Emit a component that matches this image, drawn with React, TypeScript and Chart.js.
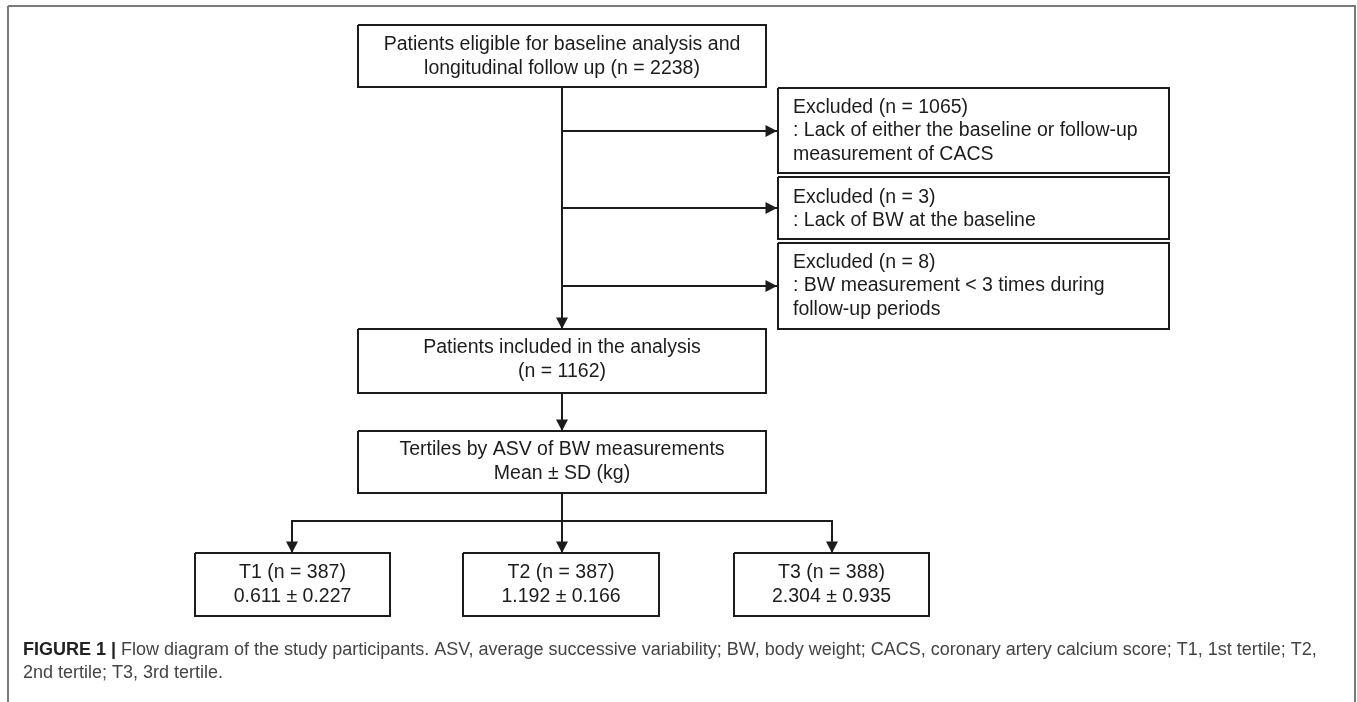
import React, { useEffect, useRef } from "react";
import { Chart, registerables } from "chart.js";

Chart.register(...registerables);

const W = 1357;
const H = 702;

// ---- Box texts ----
const topBoxLines = ["Patients eligible for baseline analysis and", "longitudinal follow up (n = 2238)"];
const excluded1Lines = ["Excluded (n = 1065)", ": Lack of either the baseline or follow-up", "measurement of CACS"];
const excluded2Lines = ["Excluded (n = 3)", ": Lack of BW at the baseline"];
const excluded3Lines = ["Excluded (n = 8)", ": BW measurement < 3 times during", "follow-up periods"];
const includedLines = ["Patients included in the analysis", "(n = 1162)"];
const tertileLines = ["Tertiles by ASV of BW measurements", "Mean \u00b1 SD (kg)"];
const t1Lines = ["T1 (n = 387)", "0.611 \u00b1 0.227"];
const t2Lines = ["T2 (n = 387)", "1.192 \u00b1 0.166"];
const t3Lines = ["T3 (n = 388)", "2.304 \u00b1 0.935"];

const captionBold = "FIGURE 1 | ";
const captionLine1 =
  "Flow diagram of the study participants. ASV, average successive variability; BW, body weight; CACS, coronary artery calcium score; T1, 1st tertile; T2,";
const captionLine2 = "2nd tertile; T3, 3rd tertile.";

// ---- Layout (diagram coordinates on the hidden linear scales) ----
// box rectangles: [x0, y0, x1, y1]
const boxRects: number[][] = [
  [358, 25, 766, 87],
  [778, 88, 1169, 173],
  [778, 177, 1169, 239],
  [778, 243, 1169, 329],
  [358, 329, 766, 393],
  [358, 431, 766, 493],
  [195, 553, 390, 616],
  [463, 553, 659, 616],
  [734, 553, 929, 616],
];
const boxTextSets = [topBoxLines, excluded1Lines, excluded2Lines, excluded3Lines, includedLines, tertileLines, t1Lines, t2Lines, t3Lines];
const boxAlign = ["center", "left", "left", "left", "center", "center", "center", "center", "center"];
const boxFirstLineY = [45, 107.5, 197.5, 262.5, 348, 450, 573, 573, 573];
const lineGap = 23.5;
const leftTextX = 793;

// connectors: list of polylines [x, y] ; arrow at end if flagged
const connectors: number[][][] = [
  [[562, 87], [562, 329]],
  [[562, 131], [777, 131]],
  [[562, 208], [777, 208]],
  [[562, 286], [777, 286]],
  [[562, 393], [562, 431]],
  [[562, 493], [562, 553]],
  [[562, 521], [292, 521], [292, 553]],
  [[562, 521], [832, 521], [832, 553]],
];
const connectorArrow = [true, true, true, true, true, true, true, true];

const frameRect = [8, 6, 1355, 730];
const captionX = 23;
const captionY = [650, 673];
const captionWidth = 1294;

const BOX_FONT = '19.5px "Liberation Sans", Arial, sans-serif';
const INK = "#1c1c1c";

export default function App() {
  const ref = useRef<HTMLCanvasElement | null>(null);

  useEffect(() => {
    if (!ref.current) return;

    const rectPoly = (r: number[]) => [
      { x: r[0], y: r[1] },
      { x: r[2], y: r[1] },
      { x: r[2], y: r[3] },
      { x: r[0], y: r[3] },
      { x: r[0], y: r[1] },
    ];

    const datasets: any[] = [];
    datasets.push({
      data: rectPoly(frameRect),
      showLine: true,
      borderColor: "#7a7a7a",
      borderWidth: 2,
      pointRadius: 0,
      fill: false,
      clip: false,
    });
    boxRects.forEach((r) => {
      datasets.push({
        data: rectPoly(r),
        showLine: true,
        borderColor: INK,
        borderWidth: 2,
        pointRadius: 0,
        fill: false,
        clip: false,
        borderJoinStyle: "miter",
      });
    });
    connectors.forEach((c) => {
      datasets.push({
        data: c.map((p) => ({ x: p[0], y: p[1] })),
        showLine: true,
        borderColor: INK,
        borderWidth: 2,
        pointRadius: 0,
        fill: false,
        clip: false,
      });
    });

    const drawPlugin = {
      id: "flowText",
      afterDatasetsDraw(chart: any) {
        const ctx = chart.ctx as CanvasRenderingContext2D;
        const xs = chart.scales.x;
        const ys = chart.scales.y;
        const px = (v: number) => xs.getPixelForValue(v);
        const py = (v: number) => ys.getPixelForValue(v);
        ctx.save();
        // arrowheads
        connectors.forEach((c, i) => {
          if (!connectorArrow[i]) return;
          const a = c[c.length - 2];
          const b = c[c.length - 1];
          const ax = px(a[0]), ay = py(a[1]);
          const bx = px(b[0]), by = py(b[1]);
          const ang = Math.atan2(by - ay, bx - ax);
          const len = 11.5, hw = 6;
          ctx.beginPath();
          ctx.moveTo(bx, by);
          ctx.lineTo(bx - len * Math.cos(ang) + hw * Math.sin(ang), by - len * Math.sin(ang) - hw * Math.cos(ang));
          ctx.lineTo(bx - len * Math.cos(ang) - hw * Math.sin(ang), by - len * Math.sin(ang) + hw * Math.cos(ang));
          ctx.closePath();
          ctx.fillStyle = INK;
          ctx.fill();
        });
        // box text
        ctx.font = BOX_FONT;
        ctx.fillStyle = INK;
        ctx.textBaseline = "middle";
        boxTextSets.forEach((lines, i) => {
          const r = boxRects[i];
          lines.forEach((t, j) => {
            const y = py(boxFirstLineY[i] + j * lineGap);
            if (boxAlign[i] === "left") {
              ctx.textAlign = "left";
              ctx.fillText(t, px(leftTextX), y);
            } else {
              ctx.textAlign = "center";
              ctx.fillText(t, (px(r[0]) + px(r[2])) / 2, y);
            }
          });
        });
        // caption
        const fam = '"Liberation Sans", Arial, sans-serif';
        ctx.textAlign = "left";
        ctx.font = `bold 16px ${fam}`;
        const wb = ctx.measureText(captionBold).width;
        ctx.font = `16px ${fam}`;
        const wr = ctx.measureText(captionLine1).width;
        const size = (16 * captionWidth) / (wb + wr);
        ctx.font = `bold ${size}px ${fam}`;
        ctx.fillStyle = "#222";
        const x0 = px(captionX);
        ctx.fillText(captionBold, x0, py(captionY[0]));
        const wb2 = ctx.measureText(captionBold).width;
        ctx.font = `${size}px ${fam}`;
        ctx.fillStyle = "#444";
        ctx.fillText(captionLine1, x0 + wb2, py(captionY[0]));
        ctx.fillText(captionLine2, x0, py(captionY[1]));
        ctx.restore();
      },
    };

    const chart = new Chart(ref.current, {
      type: "scatter",
      data: { datasets },
      options: {
        animation: false,
        responsive: false,
        maintainAspectRatio: false,
        events: [],
        layout: { padding: 0 },
        scales: {
          x: { type: "linear", min: 0, max: W, display: false },
          y: { type: "linear", min: 0, max: H, reverse: true, display: false },
        },
        plugins: { legend: { display: false }, tooltip: { enabled: false } },
      },
      plugins: [drawPlugin],
    });
    return () => chart.destroy();
  }, []);

  return (
    <div style={{ position: "absolute", left: 0, top: 0, width: W, height: H, background: "#fff" }}>
      <canvas ref={ref} width={W} height={H} style={{ display: "block", width: W, height: H }} />
    </div>
  );
}
